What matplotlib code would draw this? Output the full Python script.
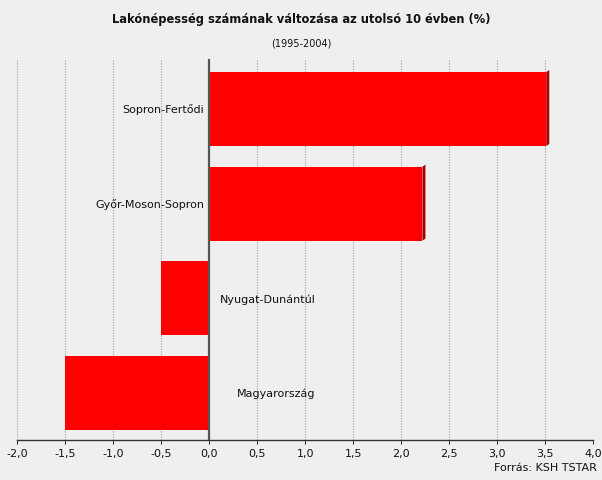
import matplotlib
matplotlib.use("Agg")
import matplotlib.pyplot as plt
from matplotlib.patches import Polygon

categories = ["Sopron-Fertődi", "Győr-Moson-Sopron", "Nyugat-Dunántúl", "Magyarország"]
values = [3.51, 2.22, -0.50, -1.50]
tick_values = [-2.0, -1.5, -1.0, -0.5, 0.0, 0.5, 1.0, 1.5, 2.0, 2.5, 3.0, 3.5, 4.0]
tick_labels = ["-2,0", "-1,5", "-1,0", "-0,5", "0,0", "0,5", "1,0", "1,5", "2,0", "2,5", "3,0", "3,5", "4,0"]

W, H = 602, 481
bg = "#efefef"
fig = plt.figure(figsize=(W / 100, H / 100), dpi=100, facecolor=bg)
left_px, right_px, top_px, bot_px = 17.3, 593.3, 60.0, 440.7
ax = fig.add_axes([left_px / W, 1 - bot_px / H, (right_px - left_px) / W, (bot_px - top_px) / H])
ax.set_facecolor(bg)

px = 6.0 / (right_px - left_px)  # data units per pixel in x
ypx = 1.0 / 94.7                 # data units per pixel in y
ax.set_xlim(-2.0, 4.0)
ymax_data = 3 + (bot_px - 394) * ypx
ymin_data = 0 - (110 - top_px) * ypx
ax.set_ylim(ymax_data, ymin_data)

bar_h = 0.78
for i, v in enumerate(values):
    ax.barh(i, v, height=bar_h, color="#ff0000", edgecolor="none", zorder=3)
    if v > 0:
        d = 3 * px
        dy = 2 * ypx
        poly = Polygon([(v, i - bar_h / 2), (v + d, i - bar_h / 2 - dy),
                        (v + d, i + bar_h / 2 - dy), (v, i + bar_h / 2)],
                       closed=True, facecolor="#a00000", edgecolor="none", zorder=3)
        ax.add_patch(poly)

# gridlines
for t in tick_values:
    if t != 0.0:
        ax.axvline(t, color="#a8a8a8", lw=0.8, ls=(0, (1.2, 1.2)), zorder=1)
ax.axvline(0, color="#555555", lw=1.6, zorder=4)

for s in ["top", "right", "left"]:
    ax.spines[s].set_visible(False)
ax.spines["bottom"].set_color("#333333")
ax.spines["bottom"].set_linewidth(1.0)

ax.set_xticks(tick_values)
ax.set_xticklabels(tick_labels, fontsize=8, color="#111111")
ax.tick_params(axis="x", length=3, width=0.8, color="#333333", pad=3)
ax.set_yticks([])

for i, (c, v) in enumerate(zip(categories, values)):
    if v > 0:
        ax.text(-5 * px, i, c, ha="right", va="center", fontsize=8, color="#111111", zorder=5)
    else:
        ax.text(1.11, i, c, ha="right", va="center", fontsize=8, color="#111111", zorder=5)

fig.text(0.5, 1 - 19 / H, "Lakónépesség számának változása az utolsó 10 évben (%)",
         ha="center", va="center", fontsize=8.3, fontweight="bold", color="#111111")
fig.text(0.5, 1 - 43 / H, "(1995-2004)", ha="center", va="center", fontsize=7, color="#111111")
fig.text(597 / W, 1 - 468 / H, "Forrás: KSH TSTAR", ha="right", va="center", fontsize=8, color="#111111")

fig.savefig("out.png", dpi=100, facecolor=bg)
